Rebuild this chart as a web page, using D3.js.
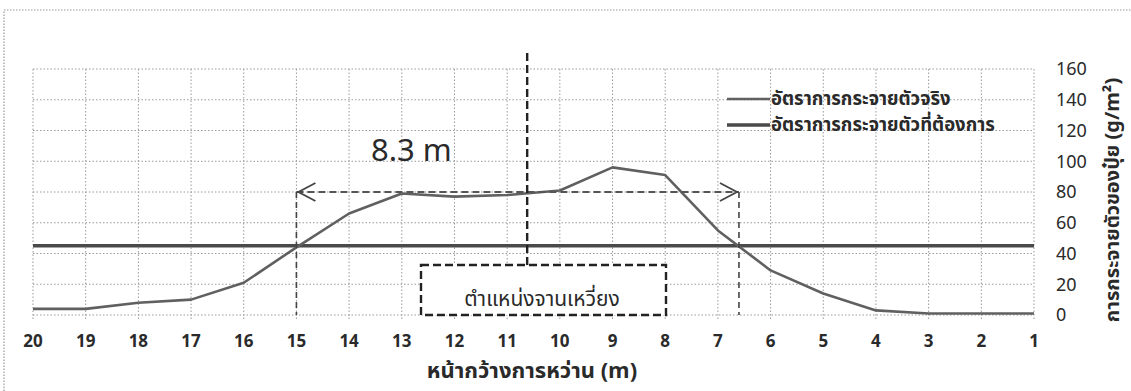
<!DOCTYPE html>
<html><head><meta charset="utf-8">
<script src="https://cdn.jsdelivr.net/npm/d3@7"></script>
<style>
body{margin:0;background:#fff;}
svg{display:block;}
text{font-family:"Noto Sans Thai","Noto Sans","DejaVu Sans",sans-serif;fill:#2a2a2a;}
</style></head><body>
<svg id="c" width="1131" height="391"></svg>
<script>
const positions = [20,19,18,17,16,15,14,13,12,11,10,9,8,7,6,5,4,3,2,1];
const actualRate = [4,4,8,10,21,44,66,79,77,78,81,96,91,55,29,14,3,1,1,1];
const targetRate = 45;
const yTicks = [0,20,40,60,80,100,120,140,160];
const seriesNames = ["อัตราการกระจายตัวจริง","อัตราการกระจายตัวที่ต้องการ"];
const xTitle = "หน้ากว้างการหว่าน (m)";
const yTitle = "การกระจายตัวของปุ๋ย (g/m²)";
const spanStart = 15, spanEnd = 6.6, spanLevel = 80, spanLabel = "8.3 m";
const spreaderPos = 10.62, spreaderLabel = "ตำแหน่งจานเหวี่ยง";

const svg = d3.select("#c");
const x = d3.scaleLinear().domain([20,1]).range([33,1034]);
const y = d3.scaleLinear().domain([0,160]).range([315,69]);

// outer frame
svg.append("path").attr("d","M4,391 L4,10 L1131,10")
  .attr("fill","none").attr("stroke","#999").attr("stroke-width",1.2).attr("stroke-dasharray","1.5,1.5");

// grid
const g = svg.append("g");
g.selectAll(".hg").data(yTicks).join("line")
  .attr("x1",x(20)).attr("x2",x(1)).attr("y1",d=>y(d)).attr("y2",d=>y(d))
  .attr("stroke","#999").attr("stroke-width",1).attr("stroke-dasharray","1.5,2");
g.selectAll(".vg").data(positions).join("line")
  .attr("x1",d=>x(d)).attr("x2",d=>x(d)).attr("y1",y(160)).attr("y2",y(0)+4)
  .attr("stroke","#999").attr("stroke-width",1).attr("stroke-dasharray","1.5,2");

// x tick labels
svg.append("g").selectAll("text").data(positions).join("text")
  .attr("x",d=>x(d)).attr("y",347).attr("text-anchor","middle")
  .attr("font-size",17).attr("font-weight","bold").text(d=>d);

// y tick labels (right)
svg.append("g").selectAll("text").data(yTicks).join("text")
  .attr("x",1056).attr("y",d=>y(d)).attr("dy","0.35em")
  .attr("font-size",18).text(d=>d);

// titles
svg.append("text").attr("x",532).attr("y",378).attr("text-anchor","middle")
  .attr("font-size",22).attr("font-weight","bold").text(xTitle);
svg.append("text").attr("transform",`translate(1119,${(y(0)+y(160))/2+8}) rotate(-90)`)
  .attr("text-anchor","middle").attr("font-size",20).attr("font-weight","bold").text(yTitle);

// target line
svg.append("line").attr("x1",x(20)).attr("x2",x(1)).attr("y1",y(targetRate)).attr("y2",y(targetRate))
  .attr("stroke","#4a4a4a").attr("stroke-width",3.5);

// actual line
svg.append("path").datum(positions.map((p,i)=>[p,actualRate[i]]))
  .attr("d",d3.line().x(d=>x(d[0])).y(d=>y(d[1])))
  .attr("fill","none").attr("stroke","#606060").attr("stroke-width",2.6).attr("stroke-linejoin","round");

// span annotation
const dash = {"stroke":"#444","stroke-width":2.2,"stroke-dasharray":"7,4","fill":"none"};
function sty(sel,o){for(const k in o) sel.attr(k,o[k]); return sel;}
sty(svg.append("line").attr("x1",x(spanStart)).attr("x2",x(spanEnd)).attr("y1",y(spanLevel)).attr("y2",y(spanLevel)),dash).attr("stroke","#555");
sty(svg.append("line").attr("x1",x(spanStart)).attr("x2",x(spanStart)).attr("y1",y(spanLevel)).attr("y2",y(0)),dash).attr("stroke-width",1.6).attr("stroke-dasharray","6,4");
sty(svg.append("line").attr("x1",x(spanEnd)).attr("x2",x(spanEnd)).attr("y1",y(spanLevel)).attr("y2",y(0)),dash).attr("stroke-width",1.6).attr("stroke-dasharray","6,4");
// arrowheads
const ay = y(spanLevel);
svg.append("path").attr("d",`M${x(spanStart)+19},${ay-9} L${x(spanStart)+2},${ay} L${x(spanStart)+19},${ay+9}`)
  .attr("fill","none").attr("stroke","#444").attr("stroke-width",1.8);
svg.append("path").attr("d",`M${x(spanEnd)-19},${ay-9} L${x(spanEnd)-2},${ay} L${x(spanEnd)-19},${ay+9}`)
  .attr("fill","none").attr("stroke","#444").attr("stroke-width",1.8);
svg.append("text").attr("x",371).attr("y",161).attr("font-size",31)
  .attr("font-family","Liberation Sans, Arial, sans-serif").text(spanLabel);

// spreader position
svg.append("line").attr("x1",x(spreaderPos)).attr("x2",x(spreaderPos)).attr("y1",53).attr("y2",265)
  .attr("stroke","#222").attr("stroke-width",2.4).attr("stroke-dasharray","8,4");
svg.append("rect").attr("x",421).attr("y",265).attr("width",245).attr("height",50)
  .attr("fill","#fff").attr("stroke","#222").attr("stroke-width",2.4).attr("stroke-dasharray","8,4");
svg.append("text").attr("x",542).attr("y",306).attr("text-anchor","middle").attr("font-size",21).text(spreaderLabel);

// legend
const leg = svg.append("g");
leg.selectAll("line").data(seriesNames).join("line")
  .attr("x1",727).attr("x2",770).attr("y1",(d,i)=>99+i*26).attr("y2",(d,i)=>99+i*26)
  .attr("stroke",(d,i)=>i?"#4a4a4a":"#606060").attr("stroke-width",(d,i)=>i?3.5:2.6);
leg.selectAll("text").data(seriesNames).join("text")
  .attr("x",771).attr("y",(d,i)=>99+i*26).attr("dy","0.35em")
  .attr("font-size",18.5).attr("font-weight","bold").text(d=>d);
</script>
</body></html>
